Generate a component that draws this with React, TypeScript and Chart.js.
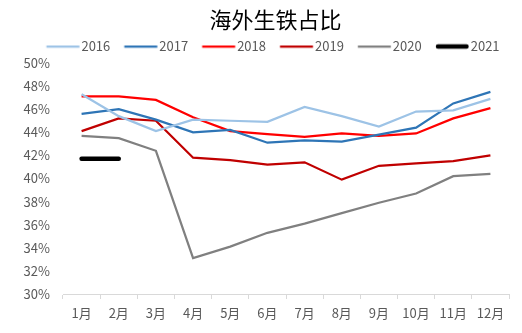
import React, { useEffect, useRef } from "react";
import { Chart, registerables } from "chart.js";

Chart.register(...registerables);

const months = ["1月", "2月", "3月", "4月", "5月", "6月", "7月", "8月", "9月", "10月", "11月", "12月"];
const s2016 = [47.3, 45.4, 44.1, 45.1, 45.0, 44.9, 46.2, 45.4, 44.5, 45.8, 45.9, 46.9];
const s2017 = [45.6, 46.0, 45.1, 44.0, 44.2, 43.1, 43.3, 43.2, 43.8, 44.4, 46.5, 47.5];
const s2018 = [47.1, 47.1, 46.8, 45.3, 44.1, 43.85, 43.6, 43.9, 43.7, 43.9, 45.2, 46.1];
const s2019 = [44.1, 45.2, 45.0, 41.8, 41.6, 41.2, 41.4, 39.9, 41.1, 41.3, 41.5, 42.0];
const s2020 = [43.7, 43.5, 42.4, 33.1, 34.1, 35.3, 36.1, 37.0, 37.9, 38.7, 40.2, 40.4];
const s2021 = [41.7, 41.7, null, null, null, null, null, null, null, null, null, null];
const yTicksMin = 30;
const yTicksMax = 50;
const yStep = 2;

const FONT = '"Noto Sans CJK SC", "Noto Sans", sans-serif';

// legend marker image: a line placed just before the label text
const BOX_W = 34.5;
const LINE_LEN = 33;
const IMG_W = 70;
function legendLine(color: string, w: number, round: boolean) {
  const c = document.createElement("canvas");
  c.width = IMG_W;
  c.height = 12;
  const ctx = c.getContext("2d")!;
  const left = IMG_W / 2 - BOX_W / 2; // item x in image coordinates
  const start = left + BOX_W + 6.5 - 2 - LINE_LEN;
  ctx.strokeStyle = color;
  ctx.lineWidth = w;
  ctx.lineCap = round ? "round" : "butt";
  ctx.beginPath();
  ctx.moveTo(start + (round ? w / 2 : 0), 6);
  ctx.lineTo(start + LINE_LEN - (round ? w / 2 : 0), 6);
  ctx.stroke();
  return c;
}

// shift title and legend horizontally to match the reference centring
const shiftPlugin = {
  id: "shiftHeader",
  afterLayout(chart: any) {
    if (chart.legend) {
      chart.legend.left += 15.5;
      chart.legend.right += 15.5;
    }
    if (chart.titleBlock) {
      chart.titleBlock.left += 21;
      chart.titleBlock.right += 21;
    }
  },
};

export default function App() {
  const ref = useRef<HTMLCanvasElement | null>(null);
  useEffect(() => {
    document.body.style.margin = "0";
    const mk = (label: string, data: (number | null)[], color: string, w: number, round = false) => ({
      label,
      data,
      borderColor: color,
      backgroundColor: color,
      borderWidth: w,
      borderCapStyle: round ? "round" : "butt",
      pointRadius: 0,
      pointHoverRadius: 0,
      pointStyle: legendLine(color, w, round),
      tension: 0,
      fill: false,
    });
    const chart = new Chart(ref.current!, {
      type: "line",
      data: {
        labels: months,
        datasets: [
          mk("2016", s2016, "#9DC3E6", 2.25),
          mk("2017", s2017, "#2E75B6", 2.25),
          mk("2018", s2018, "#FF0000", 2.25),
          mk("2019", s2019, "#C00000", 2.25),
          mk("2020", s2020, "#808080", 2.25),
          mk("2021", s2021, "#000000", 4.5, true),
        ],
      },
      plugins: [shiftPlugin],
      options: {
        responsive: false,
        animation: false,
        layout: { padding: { top: 0, left: 0, right: 13, bottom: 0 } },
        plugins: {
          tooltip: { enabled: false },
          title: {
            display: true,
            text: "海外生铁占比",
            color: "#000000",
            font: { family: FONT, size: 22, weight: "normal", lineHeight: 1 },
            padding: { top: 8.5, bottom: 1.5 },
          },
          legend: {
            display: true,
            position: "top",
            labels: {
              usePointStyle: true,
              pointStyleWidth: BOX_W,
              boxHeight: 13,
              color: "#595959",
              font: { family: FONT, size: 13, lineHeight: 1 },
              padding: 8,
            },
          },
        },
        scales: {
          x: {
            offset: true,
            grid: {
              offset: true,
              drawOnChartArea: false,
              drawTicks: true,
              tickLength: 5,
              color: "#D9D9D9",
            },
            border: { display: true, color: "#D9D9D9", width: 1 },
            ticks: {
              color: "#595959",
              font: { family: FONT, size: 13 },
              padding: 6,
              maxRotation: 0,
              autoSkip: false,
            },
            afterFit: (s: any) => {
              s.height = 39;
            },
          },
          y: {
            min: yTicksMin,
            max: yTicksMax,
            grid: { display: false, drawTicks: false },
            border: { display: false },
            ticks: {
              stepSize: yStep,
              color: "#595959",
              font: { family: FONT, size: 13 },
              padding: 13,
              callback: (v: any) => v + "%",
            },
            afterFit: (s: any) => {
              s.width = 63;
            },
          },
        },
      },
    } as any);
    return () => chart.destroy();
  }, []);
  return <canvas ref={ref} width={522} height={333} />;
}
